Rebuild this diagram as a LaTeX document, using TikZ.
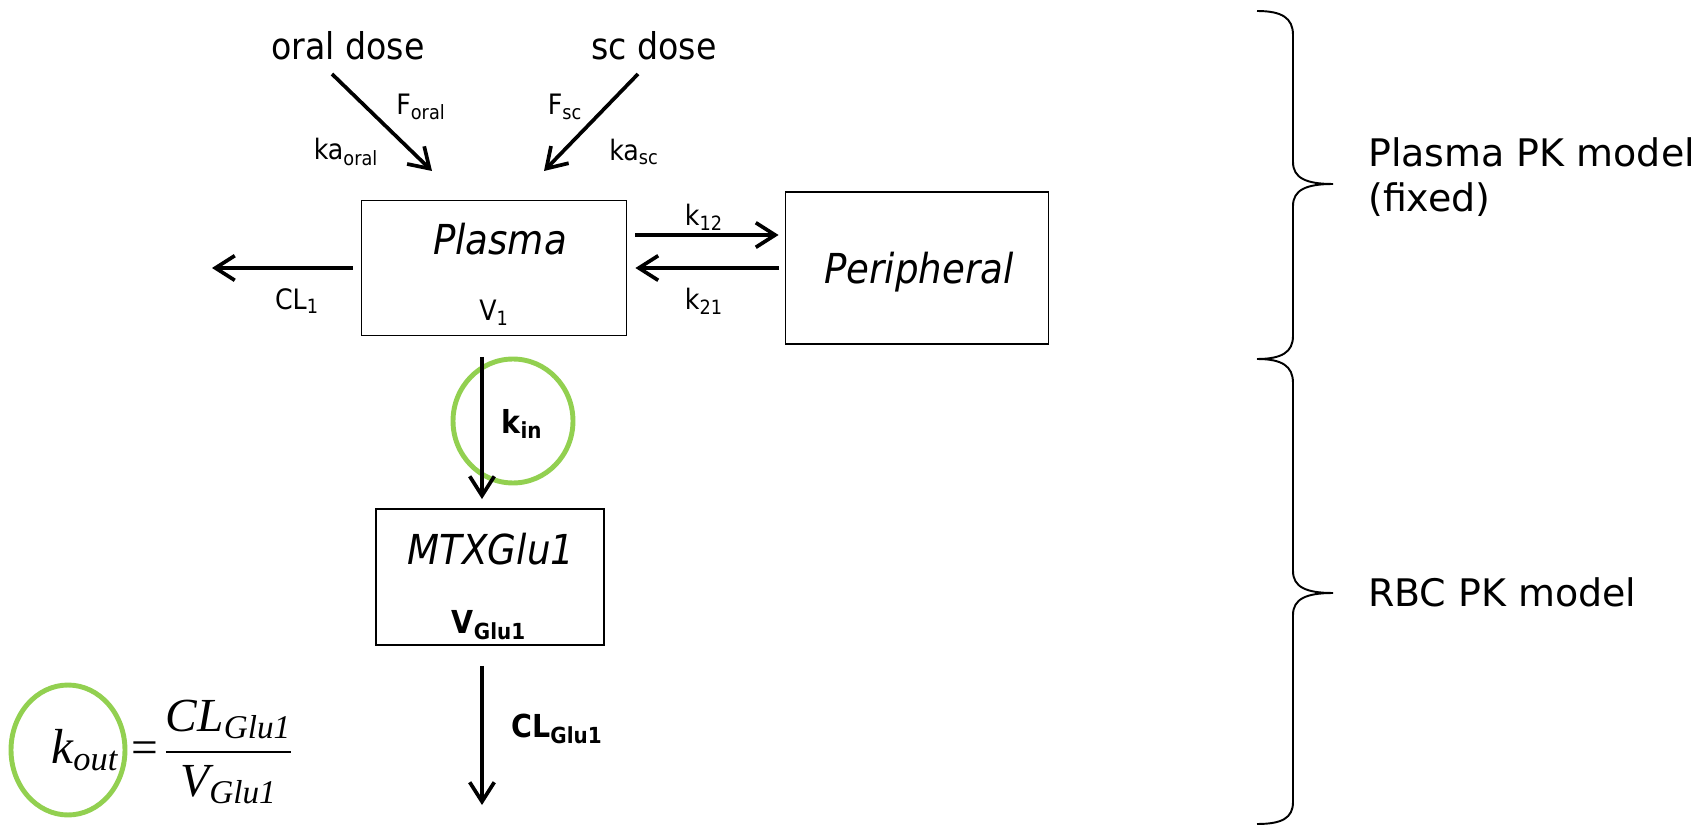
\documentclass[tikz,border=0pt]{standalone}
\usepackage{fix-cm}
\usepackage{amsmath}
\usepackage{fontspec}
\setmainfont{DejaVu Sans}
\newfontfamily\condfont{DejaVu Sans Condensed}
\newfontfamily\tmsfont{Liberation Serif}
\usetikzlibrary{arrows.meta, positioning, shapes.geometric}
\definecolor{ringgreen}{RGB}{146, 208, 80}
\newcommand{\tsit}[1]{\text{\tmsfont\itshape #1}}

\begin{document}
\begin{tikzpicture}[
    x=0.02cm, y=-0.02cm,
    comp/.style={rectangle, draw=black, line width=1.1pt, inner sep=0pt},
    cname/.style={font=\condfont\itshape\fontsize{23.5}{27}\selectfont},
    dose/.style={font=\condfont\fontsize{21}{25}\selectfont},
    rate/.style={font=\condfont\fontsize{16}{19}\selectfont},
    boldrate/.style={font=\condfont\bfseries\fontsize{18}{21}\selectfont},
    flow/.style={-{Straight Barb[length=11pt, width=14pt]}, line width=2.1pt},
    ring/.style={ellipse, draw=ringgreen, line width=2.8pt, inner sep=0pt},
    model/.style={font=\fontsize{21.6}{25.5}\selectfont, anchor=west, align=left},
    brace/.style={line width=1.1pt}
]

\useasboundingbox (0,0) rectangle (1705,827);

% compartments
\node[comp, minimum width=5.3cm, minimum height=2.7cm] (plasma) at (494,268) {};
\node[comp, minimum width=5.26cm, minimum height=3.04cm] (periph) at (917,268) {};
\node[comp, minimum width=4.56cm, minimum height=2.72cm] (mtx) at (490,577) {};

\node[cname] (plasmaname) at (500,239) {Plasma};
\node[rate] (plasmavol) at (494,313) {V\textsubscript{1}};
\node[cname] (periphname) at (919,272) {Peripheral};
\node[cname] (mtxname) at (491,549) {MTXGlu1};
\node[boldrate] (mtxvol) at (489,625) {V\textsubscript{Glu1}};

% doses
\node[dose] (oraldose) at (348,46) {oral dose};
\node[dose] (scdose) at (654,46) {sc dose};
\coordinate (oraltail) at (332,74);
\coordinate (oralhead) at (432,171);
\coordinate (sctail) at (638,74);
\coordinate (schead) at (544,171);
\draw[flow] (oraltail) -- (oralhead);
\draw[flow] (sctail) -- (schead);
\node[rate] (foral) at (421,107) {F\textsubscript{oral}};
\node[rate] (kaoral) at (346,152) {ka\textsubscript{oral}};
\node[rate] (fsc) at (565,107) {F\textsubscript{sc}};
\node[rate] (kasc) at (634,152) {ka\textsubscript{sc}};

% plasma exchange and clearance
\coordinate (clout) at (212,268);
\draw[flow, shorten <=0.16cm] (plasma.west) -- (clout);
\node[rate] (clone) at (297,301) {CL\textsubscript{1}};
\draw[flow, shorten <=0.16cm, shorten >=0.12cm] ([yshift=0.66cm]plasma.east) -- ([yshift=0.66cm]plasma.east -| periph.west);
\draw[flow, shorten <=0.12cm, shorten >=0.16cm] (periph.west) -- (periph.west -| plasma.east);
\node[rate] (konetwo) at (704,217) {k\textsubscript{12}};
\node[rate] (ktwoone) at (704,301) {k\textsubscript{21}};

% RBC part
\node[ring, minimum width=2.4cm, minimum height=2.48cm] (kinring) at (513,421) {};
\coordinate (kintail) at (482,357);
\draw[flow, shorten >=0.18cm] (kintail) -- (kintail |- mtx.north);
\node[boldrate] (kin) at (522,424) {k\textsubscript{in}};
\coordinate (clgluhead) at (482,805);
\draw[flow, shorten <=0.4cm] (clgluhead |- mtx.south) -- (clgluhead);
\node[boldrate] (clglu) at (557,729) {CL\textsubscript{Glu1}};

% k_out
\node[ring, minimum width=2.28cm, minimum height=2.6cm] (koutring) at (68,750) {};
\node[font=\fontsize{28}{32}\selectfont] (koutname) at (85,750) {$\tsit{k}_{\tsit{out}}$};
\node[anchor=west, font=\fontsize{27}{31}\selectfont, inner sep=0pt] (koutfrac) at (131,752)
    {{\tmsfont =}\hspace{0.12em}$\dfrac{\tsit{CL}_{\tsit{Glu1}}}{\tsit{V}_{\tsit{Glu1}}}$};

% braces
\draw[brace] (1257,11) .. controls (1282,11) and (1293,18) .. (1293,35) -- (1293,162)
    .. controls (1293,178) and (1306,184) .. (1333,184)
    .. controls (1306,184) and (1293,190) .. (1293,206) -- (1293,336)
    .. controls (1293,352) and (1282,359) .. (1257,359);
\draw[brace] (1257,359) .. controls (1282,359) and (1293,366) .. (1293,383) -- (1293,571)
    .. controls (1293,587) and (1306,593) .. (1333,593)
    .. controls (1306,593) and (1293,599) .. (1293,615) -- (1293,802)
    .. controls (1293,818) and (1282,824) .. (1257,824);
\node[model] (plasmamodel) at (1362,177) {Plasma PK model\\(fixed)};
\node[model] (rbcmodel) at (1362,592) {RBC PK model};

\end{tikzpicture}
\end{document}
